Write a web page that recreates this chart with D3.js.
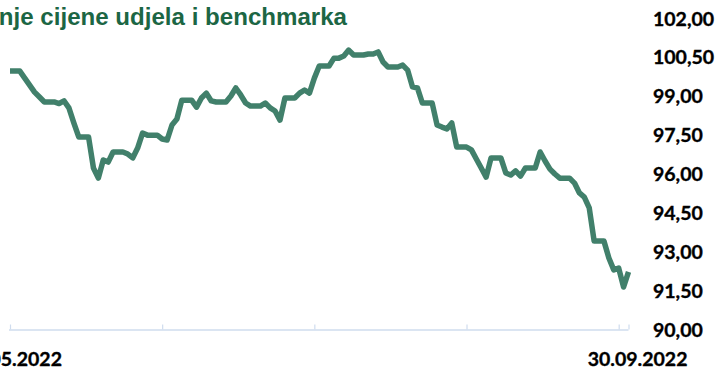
<!DOCTYPE html>
<html>
<head>
<meta charset="utf-8">
<script src="https://cdn.jsdelivr.net/npm/d3@7"></script>
<style>
  body { margin: 0; background: #ffffff; }
  svg { display: block; }
</style>
</head>
<body>
<svg id="chart" width="717" height="369"></svg>
<script>
// Fund unit price, one value per calendar day (weekends carry Friday's price)
const title = "Kretanje cijene udjela i benchmarka";
const startDate = "2022-05-27";
const endDate = "2022-09-30";
const prices = [
  99.97, 99.97, 99.97, 99.70, 99.43, 99.16, 98.97,
  98.78, 98.78, 98.78, 98.72, 98.82, 98.55, 97.97,
  97.43, 97.43, 97.43, 96.23, 95.84, 96.54, 96.46,
  96.85, 96.85, 96.85, 96.77, 96.62, 97.00, 97.58,
  97.50, 97.50, 97.50, 97.35, 97.31, 97.89, 98.12,
  98.85, 98.85, 98.85, 98.58, 98.93, 99.12, 98.82,
  98.78, 98.78, 98.78, 99.01, 99.32, 99.05, 98.74,
  98.62, 98.62, 98.62, 98.74, 98.55, 98.43, 98.08,
  98.93, 98.93, 98.93, 99.12, 99.24, 99.12, 99.70,
  100.17, 100.17, 100.17, 100.47, 100.47, 100.55, 100.78,
  100.59, 100.59, 100.59, 100.63, 100.63, 100.71, 100.32,
  100.13, 100.13, 100.13, 100.20, 100.01, 99.36, 99.32,
  98.74, 98.74, 98.74, 97.89, 97.81, 97.74, 97.97,
  97.04, 97.04, 97.04, 96.93, 96.58, 96.23, 95.88,
  96.62, 96.62, 96.62, 96.04, 95.96, 96.12, 95.92,
  96.23, 96.23, 96.23, 96.85, 96.50, 96.19, 96.00,
  95.84, 95.84, 95.84, 95.65, 95.27, 95.11, 94.69,
  93.41, 93.41, 93.41, 92.76, 92.30, 92.37, 91.64,
  92.22
];
const yTicks = [90, 91.5, 93, 94.5, 96, 97.5, 99, 100.5, 102];
const xTickDates = ["2022-05-27", "2022-06-27", "2022-07-28", "2022-08-28", "2022-09-28", "2022-09-30"];
const xLabelDates = ["2022-05-27", "2022-09-30"];
const xLabelTexts = ["27.05.2022", "30.09.2022"];

const parse = d3.timeParse("%Y-%m-%d");
const days = d3.timeDay.range(parse(startDate), d3.timeDay.offset(parse(endDate), 1));
const series = days.map((d, i) => ({ date: d, value: prices[i] }));

const svg = d3.select("#chart");

const x = d3.scaleTime()
  .domain([parse(startDate), parse(endDate)])
  .range([10, 628.5]);

const y = d3.scaleLinear()
  .domain([90, 102])
  .range([329.5, 18.5]);

const hr = d3.formatLocale({ decimal: ",", thousands: ".", grouping: [3], currency: ["", " kn"] });
const fmt = hr.format(".2f");

// Title (runs off the left edge)
svg.append("text")
  .attr("x", 347)
  .attr("y", 25)
  .attr("text-anchor", "end")
  .attr("font-family", "'Liberation Sans', Arial, sans-serif")
  .attr("font-weight", "bold")
  .attr("font-size", 24.1)
  .attr("fill", "#1c6644")
  .text(title);

// Bottom category axis: light line with upward tick marks
const xAxis = d3.axisBottom(x)
  .tickValues(xTickDates.map(parse))
  .tickSize(-5)
  .tickSizeOuter(0)
  .tickFormat("");

const gx = svg.append("g")
  .attr("transform", `translate(0,${y(90)})`)
  .call(xAxis);
gx.select(".domain").attr("stroke", "#cfdcee").attr("stroke-width", 1.5)
  .attr("d", `M${x(parse(startDate)) - 1},0.5H${x(parse(endDate))}`);
gx.selectAll(".tick line").attr("stroke", "#cfdcee").attr("stroke-width", 1.2);

// Right value axis labels
svg.append("g")
  .selectAll("text")
  .data(yTicks)
  .join("text")
  .attr("x", 653)
  .attr("y", d => y(d))
  .attr("dy", "0.36em")
  .attr("font-family", "Lato, 'Open Sans', sans-serif")
  .attr("font-weight", "bold")
  .attr("font-size", 19.5)
  .attr("fill", "#000000")
  .attr("stroke", "#000000")
  .attr("stroke-width", 0.35)
  .text(d => fmt(d));

// Date labels under the axis, right-aligned
const labelShift = [52, 59];
svg.append("g")
  .selectAll("text")
  .data(xLabelDates)
  .join("text")
  .attr("x", (d, i) => x(parse(d)) + labelShift[i])
  .attr("y", 366)
  .attr("text-anchor", "end")
  .attr("font-family", "Lato, 'Open Sans', sans-serif")
  .attr("font-weight", "bold")
  .attr("font-size", 19.5)
  .attr("fill", "#000000")
  .attr("stroke", "#000000")
  .attr("stroke-width", 0.35)
  .text((d, i) => xLabelTexts[i]);

// Price line
const line = d3.line()
  .x(d => x(d.date))
  .y(d => y(d.value));

svg.append("path")
  .datum(series)
  .attr("fill", "none")
  .attr("stroke", "#41806b")
  .attr("stroke-width", 5.5)
  .attr("stroke-linejoin", "round")
  .attr("stroke-linecap", "butt")
  .attr("d", line);
</script>
</body>
</html>
